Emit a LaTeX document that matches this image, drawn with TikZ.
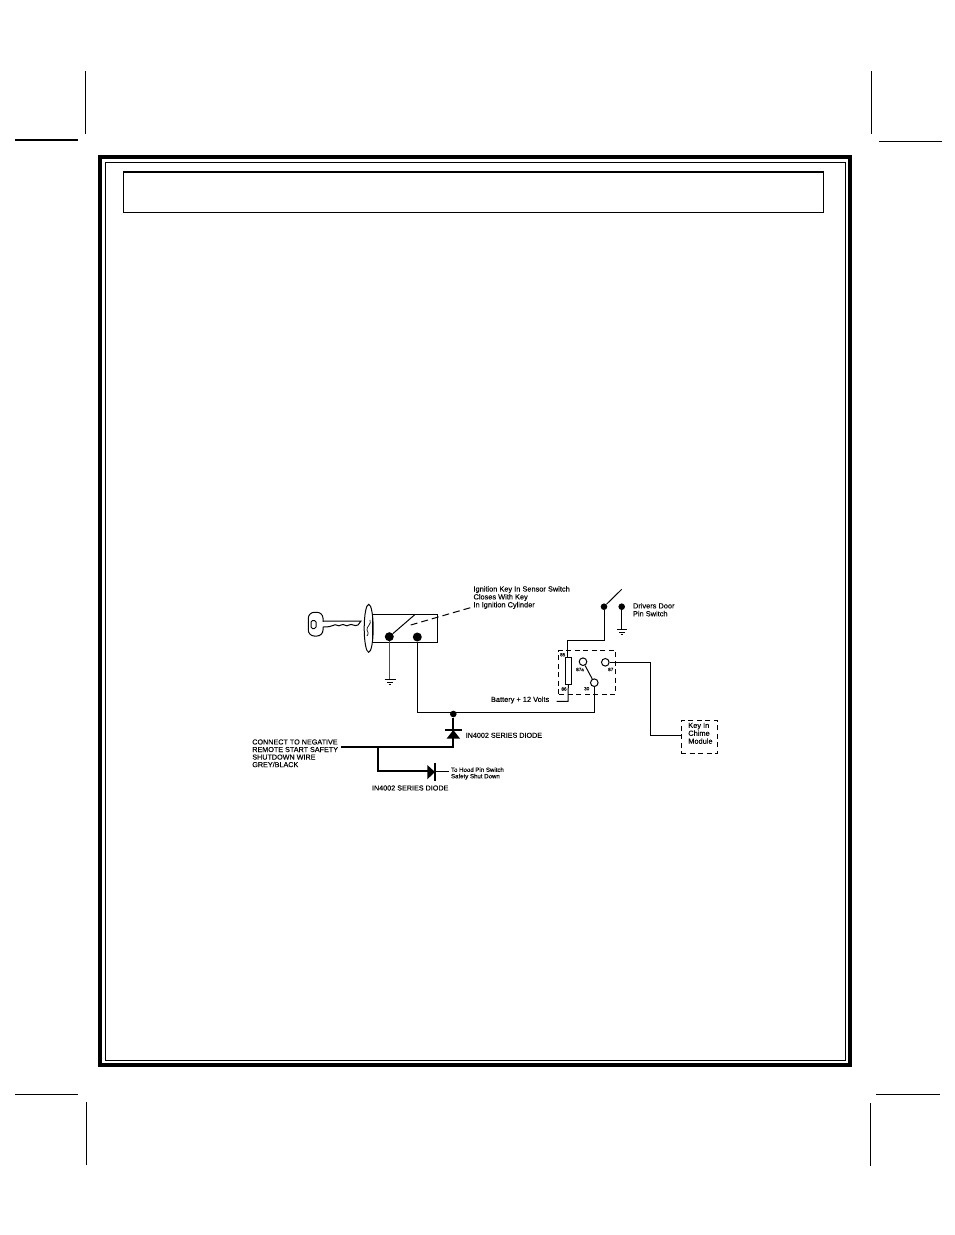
\documentclass[tikz,border=0pt]{standalone}
\usepackage{fontspec}
\usetikzlibrary{shapes.geometric}
\setmainfont[FakeBold=0.12]{Liberation Sans}
\tikzset{
  wire/.style={line width=1pt,black},
  heavy/.style={line width=1.8pt,black},
  thinwire/.style={line width=.6pt,black},
  crop/.style={line width=1pt,black},
  cropheavy/.style={line width=2pt,black},
  dashbox/.style={line width=1pt,dash pattern=on 5pt off 3.5pt,black},
  lbl/.style={anchor=west,inner sep=0pt,outer sep=0pt,align=left,font=\fontsize{7.4}{7.9}\selectfont},
  cap lbl/.style={anchor=west,inner sep=0pt,outer sep=0pt,font=\fontsize{7.2}{7.7}\selectfont},
  tiny lbl/.style={anchor=west,inner sep=0pt,outer sep=0pt,align=left,font=\fontsize{6.1}{6.4}\selectfont},
  pin lbl/.style={inner sep=0pt,outer sep=0pt,font=\fontsize{4.6}{5}\selectfont},
  bigdot/.style={circle,fill=black,draw=none,minimum size=9pt,inner sep=0pt},
  smalldot/.style={circle,fill=black,draw=none,minimum size=6.6pt,inner sep=0pt},
  terminal/.style={circle,fill=white,draw=black,line width=1pt,minimum size=7.6pt,inner sep=0pt},
}
\begin{document}
\begin{tikzpicture}[x=1pt,y=-1pt]
\useasboundingbox (0,0) rectangle (954,1235);
% crop marks
\draw[crop] (85.5,71) -- (85.5,134);
\draw[cropheavy] (15,140) -- (78,140);
\draw[crop] (871,71) -- (871,134);
\draw[crop] (879,141) -- (942,141);
\draw[crop] (15,1094) -- (78,1094);
\draw[crop] (86,1102) -- (86,1165);
\draw[crop] (876,1094) -- (940,1094);
\draw[crop] (870.5,1103) -- (870.5,1166);
% page frames
\draw[line width=4pt] (100,157) rectangle (849.7,1064.7);
\draw[line width=1pt] (105.5,162.5) rectangle (845.5,1060);
\draw[line width=1pt] (123.5,171.5) rectangle (823.5,212.5);
\draw[line width=2pt] (123,172) -- (824,172);

% key
\draw[line width=1pt,rounded corners=6pt] (308.3,612.3) rectangle (323,636);
\draw[line width=1pt,rounded corners=1.5pt] (311,620.5) rectangle (316,628.5);
\fill[white] (322,621.5) rectangle (324,626.5);
\draw[line width=1pt] (323,621) -- (361,621) -- (358,625)
  .. controls (354,627) and (352,623) .. (349,625) .. controls (346,627.5) and (344,623) .. (341,625)
  .. controls (338,627.5) and (336,623) .. (333,625.5) .. controls (331,626.5) and (328,627) .. (323,627);
% cylinder
\node[ellipse,draw=black,line width=1pt,minimum width=9pt,minimum height=48pt,inner sep=0pt] (cyl) at (368.7,628.3) {};
\draw[line width=.7pt] (370,620) .. controls (372,624) and (366,627) .. (367,630) .. controls (368,632) and (369,633) .. (367,636);
% sensor housing
\node[draw=black,line width=1pt,minimum width=64.6pt,minimum height=28pt,inner sep=0pt] (housing) at (405,628) {};
\node[bigdot] (keyA) at (389.3,636.7) {};
\node[bigdot] (keyB) at (417.3,637) {};
\coordinate (armtip) at (415,614.5);
\draw[wire] (keyA) -- (armtip);
\coordinate (dashA) at (410.7,625);
\coordinate (dashB) at (471.7,607.3);
\draw[line width=1pt,dash pattern=on 7pt off 4pt] (dashA) -- (dashB);
% key ground
\coordinate (gnd1) at (389.3,679);
\draw[line width=.7pt,black!70] (keyA) -- (gnd1);
\draw[thinwire] (384.5,679) -- (395.7,679) (387,682) -- (393,682) (388.5,684.5) -- (391,684.5);
% labels top
\node[lbl] (ignlabel) at (473.5,597.5) {Ignition Key In Sensor Switch\\Closes With Key\\In Ignition Cylinder};
\node[lbl] (doorlabel) at (633,609.7) {Drivers Door\\Pin Switch};
% door switch
\node[smalldot] (doorA) at (604,606.7) {};
\node[smalldot] (doorB) at (621.7,606.7) {};
\coordinate (doortip) at (621.7,589.3);
\draw[wire] (doorA) -- (doortip);
\coordinate (gnd2) at (621.7,629.3);
\draw[wire] (doorB) -- (gnd2);
\draw[thinwire] (617.3,629.3) -- (626.7,629.3) (619.3,632) -- (624.7,632) (621,634.7) -- (623,634.7);
% relay
\draw[dashbox] (558.3,694) -- (558.3,650.7) -- (615.7,650.7) -- (615.7,694) -- cycle;
\node[draw=black,line width=1pt,fill=white,minimum width=6pt,minimum height=27.4pt,inner sep=0pt] (coil) at (568.3,671) {};
\coordinate (c1) at (604,640.7);
\coordinate (c2) at (567.7,640.7);
\draw[wire] (doorA) -- (c1) -- (c2) -- (c2 |- coil.north);
\coordinate (batt1) at (568,701.3);
\coordinate (batt2) at (556.7,701.3);
\draw[wire] (coil.south) -- (batt1) -- (batt2);
\node[terminal] (t87a) at (583,661.7) {};
\node[terminal] (t87) at (605.3,662.3) {};
\node[terminal] (t30) at (594.3,682.7) {};
\draw[wire] (t87a) -- (t30);
\node[pin lbl] at (562.7,654.7) (p85) {85};
\node[pin lbl] at (564,689) (p86) {86};
\node[pin lbl] at (580,669.5) (p87a) {87a};
\node[pin lbl] at (610.7,669.5) (p87) {87};
\node[pin lbl] at (586.7,688.7) (p30) {30};
\node[lbl] (battlabel) at (491,700) {Battery + 12 Volts};
% chime module
\node[dashbox,draw,minimum width=36.5pt,minimum height=32.5pt,inner sep=0pt] (chime) at (699.3,737) {};
\node[lbl] (chimelabel) at (688.3,733.3) {Key In\\Chime\\Module};
\coordinate (m1) at (650,663.3);
\coordinate (m2) at (650,735.7);
\draw[wire] (t87) -- (t87 -| m1) -- (m2) -- (m2 -| chime.west);
% main wire
\node[smalldot] (junction) at (453.3,714) {};
\coordinate (w1) at (417.3,712.3);
\coordinate (w2) at (594.3,712.3);
\draw[wire] (keyB) -- (w1) -- (w2) -- (t30);
% vertical diode
\coordinate (d1) at (453.3,747.3);
\coordinate (wstart) at (341,747.3);
\draw[heavy] (junction) -- (d1) -- (wstart);
\fill (446.7,738.5) -- (460,738.5) -- (453.3,730) -- cycle;
\draw[line width=1.5pt] (445,730) -- (461.7,730);
\node[cap lbl] (dlabel1) at (465.7,735.3) {IN4002 SERIES DIODE};
% branch + second diode
\coordinate (b0) at (378.3,747.3);
\coordinate (b1) at (378.3,771.3);
\coordinate (b2) at (430,771.3);
\draw[heavy] (b0) -- (b1) -- (b2);
\fill (427.3,765) -- (427.3,779.3) -- (435,772) -- cycle;
\draw[line width=1.5pt] (435,763.3) -- (435,780.7);
\coordinate (b3) at (449,771.3);
\draw[thinwire] (435,771.3) -- (b3);
\node[tiny lbl] (hoodlabel) at (451,773.5) {To Hood Pin Switch\\Safety Shut Down};
\node[cap lbl] (dlabel2) at (372,788) {IN4002 SERIES DIODE};
\node[lbl,font=\fontsize{7.2}{7.55}\selectfont] (connlabel) at (252.3,753.3) {CONNECT TO NEGATIVE\\REMOTE START SAFETY\\SHUTDOWN WIRE\\GREY/BLACK};
\end{tikzpicture}
\end{document}
